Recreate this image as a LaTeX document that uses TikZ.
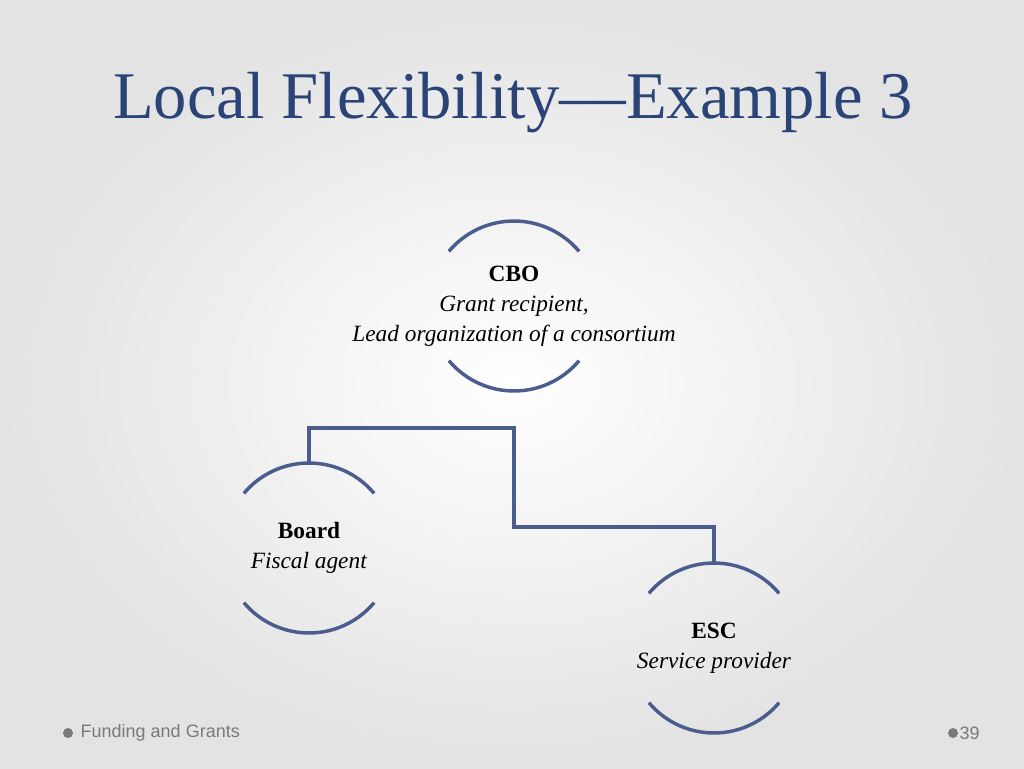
\documentclass[tikz,border=0pt]{standalone}
\usepackage{fontspec}
\setmainfont{Liberation Serif}
\newfontfamily\footfont{Liberation Sans}
\begin{document}
\begin{tikzpicture}[x=0.75pt,y=0.75pt]
\definecolor{titleblue}{HTML}{2B4478}
\definecolor{linec}{HTML}{4A5D8E}
\definecolor{footg}{HTML}{7A7A7A}
\tikzset{
  ring/.style={circle,minimum size=127.5pt,inner sep=0pt,align=center,font=\fontsize{17.5}{22.5}\selectfont},
  conn/.style={draw=linec,line width=2.6pt},
  arcs/.style={draw=linec,line width=2.6pt},
  titlefont/.style={font=\fontsize{50}{56}\selectfont}
}
\shade[inner color=white,outer color=gray!22] (0,0) rectangle (1024,-768);
\useasboundingbox (0,0) rectangle (1024,-768);
\node (title) [text=titleblue,titlefont] at (513,-103) {Local Flexibility—Example 3};
\node[ring] (cbo) at (514,-306) {\textbf{CBO}\\\textit{Grant recipient,}\\\textit{Lead organization of a consortium}};
\node[ring] (board) at (309,-548) {\textbf{Board}\\\textit{Fiscal agent}};
\node[ring] (esc) at (714,-648) {\textbf{ESC}\\\textit{Service provider}};
\foreach \n in {cbo,board,esc}{
  \draw[arcs] ([shift={(40:85)}]\n.center) arc (40:140:85);
  \draw[arcs] ([shift={(220:85)}]\n.center) arc (220:320:85);
}
\coordinate (j1) at (514,-428);
\coordinate (j2) at (514,-527);
\draw[conn] (cbo.south) -- (j1) -| (board.north);
\draw[conn] (j1) -- (j2) -| (esc.north);
\fill[footg] (68,-733) circle (5);
\node (foot) [anchor=west,text=footg,font=\footfont\fontsize{13.5}{15}\selectfont] at (76,-733) {Funding and Grants};
\fill[footg] (953,-733) circle (5);
\node (page) [anchor=west,text=footg,font=\footfont\fontsize{13.5}{15}\selectfont] at (955,-733) {39};
\end{tikzpicture}
\end{document}
